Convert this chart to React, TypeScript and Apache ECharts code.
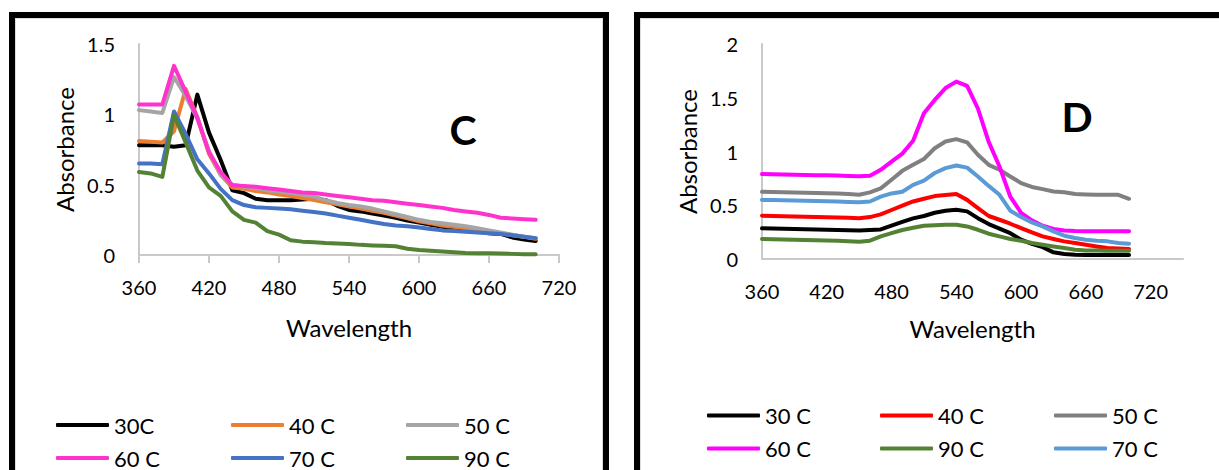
import React, { useEffect, useRef } from "react";
import * as echarts from "echarts";

// Wavelength grid (nm) shared by every spectrum
const wavelengths = [
  360, 370, 380, 390, 400, 410, 420, 430, 440, 450, 460, 470, 480, 490, 500, 510, 520,
  530, 540, 550, 560, 570, 580, 590, 600, 610, 620, 630, 640, 650, 660, 670, 680, 690, 700,
];

// Panel C absorbance spectra
const absC30 = [0.78, 0.78, 0.78, 0.77, 0.78, 1.14, 0.87, 0.675, 0.46, 0.44, 0.4, 0.39, 0.39, 0.39, 0.395, 0.4, 0.39, 0.35, 0.32, 0.31, 0.295, 0.28, 0.265, 0.245, 0.23, 0.215, 0.2, 0.19, 0.18, 0.17, 0.155, 0.15, 0.125, 0.11, 0.1];
const absC40 = [0.81, 0.805, 0.8, 0.88, 1.18, 0.98, 0.72, 0.57, 0.48, 0.47, 0.455, 0.445, 0.43, 0.42, 0.405, 0.39, 0.375, 0.36, 0.345, 0.33, 0.315, 0.3, 0.28, 0.26, 0.24, 0.225, 0.21, 0.2, 0.19, 0.175, 0.165, 0.155, 0.14, 0.13, 0.115];
const absC50 = [1.03, 1.02, 1.01, 1.265, 1.13, 0.97, 0.74, 0.57, 0.5, 0.485, 0.475, 0.46, 0.45, 0.44, 0.43, 0.415, 0.39, 0.37, 0.355, 0.345, 0.33, 0.31, 0.29, 0.27, 0.25, 0.235, 0.225, 0.215, 0.205, 0.19, 0.175, 0.16, 0.145, 0.13, 0.12];
const absC60 = [1.07, 1.07, 1.07, 1.345, 1.16, 0.975, 0.73, 0.59, 0.495, 0.49, 0.485, 0.475, 0.465, 0.455, 0.445, 0.44, 0.43, 0.42, 0.41, 0.4, 0.39, 0.385, 0.375, 0.365, 0.355, 0.345, 0.335, 0.32, 0.31, 0.3, 0.285, 0.265, 0.26, 0.255, 0.25];
const absC70 = [0.65, 0.65, 0.645, 1.02, 0.86, 0.68, 0.58, 0.47, 0.39, 0.355, 0.34, 0.335, 0.33, 0.325, 0.315, 0.305, 0.295, 0.28, 0.265, 0.25, 0.235, 0.22, 0.21, 0.205, 0.195, 0.185, 0.175, 0.17, 0.165, 0.16, 0.155, 0.15, 0.14, 0.13, 0.12];
const absC90 = [0.59, 0.58, 0.555, 0.995, 0.8, 0.6, 0.48, 0.42, 0.31, 0.25, 0.23, 0.17, 0.145, 0.105, 0.095, 0.09, 0.085, 0.082, 0.078, 0.072, 0.068, 0.065, 0.062, 0.045, 0.035, 0.03, 0.025, 0.02, 0.015, 0.013, 0.012, 0.01, 0.008, 0.005, 0.005];

// Panel D absorbance spectra
const absD30 = [0.285, 0.283, 0.281, 0.279, 0.277, 0.275, 0.273, 0.27, 0.268, 0.265, 0.27, 0.275, 0.31, 0.345, 0.378, 0.4, 0.43, 0.449, 0.458, 0.443, 0.38, 0.325, 0.282, 0.24, 0.18, 0.14, 0.11, 0.062, 0.046, 0.04, 0.037, 0.037, 0.037, 0.037, 0.037];
const absD40 = [0.403, 0.4, 0.397, 0.395, 0.393, 0.39, 0.388, 0.385, 0.383, 0.38, 0.39, 0.415, 0.456, 0.496, 0.535, 0.56, 0.585, 0.595, 0.605, 0.55, 0.474, 0.4, 0.365, 0.328, 0.288, 0.247, 0.21, 0.186, 0.164, 0.149, 0.133, 0.117, 0.102, 0.098, 0.093];
const absD50 = [0.625, 0.623, 0.62, 0.618, 0.616, 0.614, 0.612, 0.61, 0.605, 0.597, 0.62, 0.657, 0.737, 0.82, 0.876, 0.93, 1.03, 1.093, 1.115, 1.085, 0.97, 0.876, 0.83, 0.768, 0.706, 0.67, 0.65, 0.628, 0.62, 0.604, 0.6, 0.597, 0.597, 0.597, 0.56];
const absD60 = [0.79, 0.788, 0.786, 0.784, 0.782, 0.78, 0.778, 0.776, 0.773, 0.77, 0.775, 0.83, 0.905, 0.98, 1.1, 1.355, 1.48, 1.59, 1.65, 1.61, 1.4, 1.09, 0.86, 0.58, 0.43, 0.36, 0.31, 0.28, 0.266, 0.26, 0.257, 0.257, 0.257, 0.257, 0.257];
const absD90 = [0.186, 0.184, 0.182, 0.18, 0.177, 0.175, 0.172, 0.169, 0.165, 0.161, 0.17, 0.21, 0.24, 0.27, 0.29, 0.31, 0.315, 0.319, 0.319, 0.303, 0.272, 0.235, 0.21, 0.186, 0.17, 0.149, 0.133, 0.117, 0.102, 0.086, 0.08, 0.078, 0.077, 0.077, 0.077];
const absD70 = [0.55, 0.548, 0.546, 0.544, 0.542, 0.54, 0.537, 0.534, 0.53, 0.527, 0.535, 0.58, 0.61, 0.626, 0.69, 0.73, 0.8, 0.845, 0.87, 0.85, 0.768, 0.68, 0.597, 0.449, 0.39, 0.34, 0.303, 0.257, 0.217, 0.195, 0.18, 0.17, 0.164, 0.149, 0.142];

const FONT = "Lato, 'Open Sans', sans-serif";
const AXIS_GRAY = "#c9c9c9";

type Spectrum = { name: string; color: string; values: number[] };

const seriesC: Spectrum[] = [
  { name: "30C", color: "#000000", values: absC30 },
  { name: "40 C", color: "#ED7D31", values: absC40 },
  { name: "50 C", color: "#A5A5A5", values: absC50 },
  { name: "60 C", color: "#FF33CC", values: absC60 },
  { name: "70 C", color: "#4472C4", values: absC70 },
  { name: "90 C", color: "#548235", values: absC90 },
];

const seriesD: Spectrum[] = [
  { name: "30 C", color: "#000000", values: absD30 },
  { name: "40 C", color: "#FF0000", values: absD40 },
  { name: "50 C", color: "#808080", values: absD50 },
  { name: "60 C", color: "#FF00FF", values: absD60 },
  { name: "90 C", color: "#548235", values: absD90 },
  { name: "70 C", color: "#5B9BD5", values: absD70 },
];

function toLines(list: Spectrum[]) {
  return list.map((s) => ({
    type: "line",
    name: s.name,
    color: s.color,
    data: wavelengths.map((w, i) => [w, s.values[i]]),
    showSymbol: false,
    symbol: "none",
    lineStyle: { width: 4, color: s.color, cap: "round", join: "round" },
  }));
}

// One vertical two-row legend per column keeps the three columns aligned
function legendColumns(cols: string[][], xs: number[], top: number) {
  return cols.map((names, i) => ({
    show: true,
    orient: "vertical",
    left: xs[i],
    top,
    width: 160,
    height: 80,
    padding: 0,
    data: names,
    icon: "roundRect",
    itemWidth: 53,
    itemHeight: 4,
    itemGap: 11,
    selectedMode: false,
    textStyle: { fontFamily: FONT, fontSize: 22, color: "#000", lineHeight: 22 },
  }));
}

type PanelConfig = {
  grid: { left: number; top: number; width: number; height: number };
  xMax: number;
  yMax: number;
  showXTicks: boolean;
  xLabelMargin: number;
  xNameGap: number;
  letter: string;
  letterX: number;
  letterY: number;
  frameX: number;
  frameW: number;
  series: Spectrum[];
  legendCols: string[][];
  legendXs: number[];
  legendTop: number;
};

function buildOption(p: PanelConfig) {
  return {
    animation: false,
    backgroundColor: "#ffffff",
    grid: { ...p.grid, containLabel: false },
    xAxis: {
      type: "value",
      min: 360,
      max: p.xMax,
      interval: 60,
      name: "Wavelength",
      nameLocation: "middle",
      nameGap: p.xNameGap,
      nameTextStyle: { fontFamily: FONT, fontSize: 24, color: "#000", lineHeight: 24 },
      axisLine: { show: true, lineStyle: { color: AXIS_GRAY, width: 2 } },
      axisTick: { show: p.showXTicks, length: 8, lineStyle: { color: AXIS_GRAY, width: 2 } },
      splitLine: { show: false },
      axisLabel: {
        fontFamily: FONT,
        fontSize: 20,
        lineHeight: 20,
        color: "#000",
        margin: p.xLabelMargin,
        showMaxLabel: p.xMax % 60 === 0,
        formatter: (v: number) => (v % 60 === 0 ? String(v) : ""),
      },
    },
    yAxis: {
      type: "value",
      min: 0,
      max: p.yMax,
      interval: 0.5,
      name: "Absorbance",
      nameLocation: "middle",
      nameGap: 63,
      nameTextStyle: { fontFamily: FONT, fontSize: 24, color: "#000", lineHeight: 24 },
      axisLine: { show: true, lineStyle: { color: AXIS_GRAY, width: 2 } },
      axisTick: { show: false },
      splitLine: { show: false },
      axisLabel: { fontFamily: FONT, fontSize: 20, color: "#000", margin: 24 },
    },
    legend: legendColumns(p.legendCols, p.legendXs, p.legendTop),
    graphic: [
      {
        type: "rect",
        shape: { x: p.frameX, y: 15, width: p.frameW, height: 480 },
        style: { fill: "none", stroke: "#000", lineWidth: 6 },
        silent: true,
      },
      {
        type: "rect",
        shape: { x: p.frameX + 3.5, y: 18.5, width: p.frameW - 7, height: 470 },
        style: { fill: "none", stroke: "#dcdcdc", lineWidth: 1 },
        silent: true,
      },
      {
        type: "text",
        x: p.letterX,
        y: p.letterY,
        style: {
          text: p.letter,
          fontFamily: FONT,
          fontWeight: "bold",
          fontSize: 41,
          fill: "#000",
          align: "center",
          verticalAlign: "middle",
        },
        silent: true,
      },
    ],
    series: toLines(p.series),
  };
}

const panelC: PanelConfig = {
  grid: { left: 139, top: 44, width: 420, height: 211 },
  xMax: 720,
  yMax: 1.5,
  showXTicks: true,
  xLabelMargin: 22,
  xNameGap: 60,
  letter: "C",
  letterX: 463,
  letterY: 129,
  frameX: 12,
  frameW: 594,
  series: seriesC,
  legendCols: [["30C", "60 C"], ["40 C", "70 C"], ["50 C", "90 C"]],
  legendXs: [56, 231, 406],
  legendTop: 414,
};

const panelD: PanelConfig = {
  grid: { left: 142, top: 44, width: 421, height: 215 },
  xMax: 750,
  yMax: 2,
  showXTicks: false,
  xLabelMargin: 22,
  xNameGap: 57,
  letter: "D",
  letterX: 457,
  letterY: 116,
  frameX: 17,
  frameW: 700,
  series: seriesD,
  legendCols: [["30 C", "60 C"], ["40 C", "90 C"], ["50 C", "70 C"]],
  legendXs: [87, 260, 434],
  legendTop: 404.5,
};

function Panel({ config, left, width }: { config: PanelConfig; left: number; width: number }) {
  const ref = useRef<HTMLDivElement>(null);
  useEffect(() => {
    if (!ref.current) return;
    const chart = echarts.init(ref.current, undefined, { renderer: "svg" });
    chart.setOption(buildOption(config) as any);
    return () => chart.dispose();
  }, [config]);
  return (
    <div
      ref={ref}
      style={{ position: "absolute", left, top: 0, width, height: 470 }}
    />
  );
}

export default function App() {
  return (
    <div
      style={{
        position: "absolute",
        left: 0,
        top: 0,
        width: 1219,
        height: 470,
        overflow: "hidden",
        background: "#ffffff",
      }}
    >
      <Panel config={panelC} left={0} width={620} />
      <Panel config={panelD} left={620} width={599} />
    </div>
  );
}
